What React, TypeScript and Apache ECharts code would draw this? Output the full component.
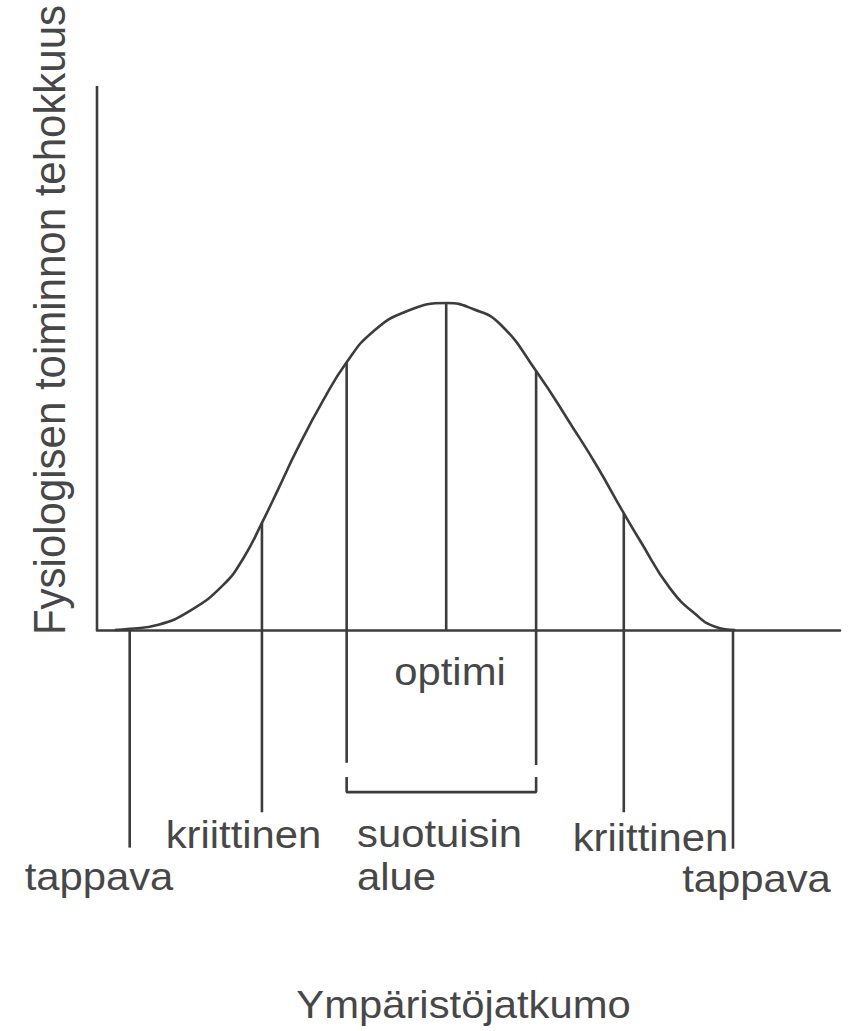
import React, { useEffect, useRef } from "react";
import * as echarts from "echarts";

// Bell curve (x: environmental continuum 0..100, y: efficiency 0..100)
const curveX = [2.4, 4.4, 8.1, 12.5, 17.0, 19.7, 22.2, 24.6, 26.9, 30.4, 33.6, 37.1, 41.7, 47.1, 50.6, 54.2, 59.1, 64.1, 67.3, 70.8, 73.1, 77.1, 80.8, 83.2, 85.9];
const curveY = [0, 0.2, 0.9, 3.5, 8.3, 13.2, 19.7, 26.5, 33.1, 42.1, 49.2, 54.8, 58.6, 60.1, 59.0, 56.3, 47.6, 37.1, 30.1, 21.7, 16.4, 7.7, 2.6, 0.6, 0];

// Vertical marker lines
const markerNames = ["tappava", "kriittinen", "suotuisin alue (alku)", "optimi", "suotuisin alue (loppu)", "kriittinen", "tappava"];
const markerX = [4.4, 22.2, 33.6, 47.0, 59.1, 70.9, 85.6];
const markerTop = [0, 19.7, 49.2, 60.1, 47.6, 21.4, 0];
const markerBottom = [-40.0, -33.5, -24.4, 0, -24.8, -33.5, -40.2];

// Bracket under "suotuisin alue"
const bracketY = -29.8;
const bracketTickTop = -27.0;

const yAxisTop = 100;

const yTitle = "Fysiologisen toiminnon tehokkuus";
const xTitle = "Ympäristöjatkumo";
const labelTexts = ["tappava", "kriittinen", "suotuisin", "alue", "optimi", "kriittinen", "tappava"];

const LINE = "#3c3c3c";
const TEXT = "#474747";
const FONT = '"Liberation Sans", Arial, Helvetica, sans-serif';

export default function App() {
  const ref = useRef<HTMLDivElement>(null);

  useEffect(() => {
    if (!ref.current) return;
    const chart = echarts.init(ref.current, undefined, { renderer: "svg" });

    const lineStyle = { color: LINE, width: 2.6 };
    const seg = (name: string, data: number[][]) => ({
      type: "line",
      name,
      data,
      showSymbol: false,
      symbol: "none",
      silent: true,
      lineStyle: { ...lineStyle, cap: "butt" },
      z: 3,
    });

    const markers = markerX.map((x, i) =>
      seg(markerNames[i], [
        [x, markerTop[i]],
        [x, markerBottom[i]],
      ])
    );

    const bracket = seg("suotuisin alue", [
      [markerX[2], bracketTickTop],
      [markerX[2], bracketY],
      [markerX[4], bracketY],
      [markerX[4], bracketTickTop],
    ]);

    const yLine = seg("y-akseli", [
      [0, 0],
      [0, yAxisTop],
    ]);

    const txt = (
      text: string,
      x: number,
      y: number,
      align: string,
      fontSize = 38,
      extra: any = {}
    ) => ({
      type: "text",
      x,
      y,
      scaleX: 1.1,
      silent: true,
      ...extra,
      style: {
        text,
        fill: TEXT,
        fontSize,
        fontFamily: FONT,
        textAlign: align,
        align,
        textVerticalAlign: "middle",
        verticalAlign: "middle",
      },
    });

    chart.setOption({
      animation: false,
      backgroundColor: "#ffffff",
      grid: { left: 97, right: 18, top: 86, bottom: 20.2, containLabel: false },
      xAxis: {
        type: "value",
        min: 0,
        max: 100,
        axisLine: { show: true, onZero: true, lineStyle: { color: LINE, width: 2.6 } },
        axisTick: { show: false },
        axisLabel: { show: false },
        splitLine: { show: false },
      },
      yAxis: {
        type: "value",
        min: -70,
        max: 100,
        axisLine: { show: false },
        axisTick: { show: false },
        axisLabel: { show: false },
        splitLine: { show: false },
      },
      series: [
        {
          type: "line",
          name: "tehokkuus",
          data: curveX.map((x, i) => [x, curveY[i]]),
          smooth: 0.5,
          showSymbol: false,
          symbol: "none",
          silent: true,
          lineStyle,
          z: 4,
        },
        yLine,
        ...markers,
        bracket,
      ],
      graphic: [
        {
          type: "text",
          x: 49.7,
          y: 320,
          rotation: Math.PI / 2,
          scaleY: 1.05,
          silent: true,
          style: {
            text: yTitle,
            fill: TEXT,
            fontSize: 42,
            fontFamily: FONT,
            textAlign: "center",
            align: "center",
            textVerticalAlign: "middle",
            verticalAlign: "middle",
          },
        },
        txt(labelTexts[0], 99, 877, "center"),
        txt(labelTexts[1], 243.5, 835, "center"),
        txt(labelTexts[2], 357, 834, "left"),
        txt(labelTexts[3], 357, 877, "left"),
        txt(labelTexts[4], 450, 672, "center"),
        txt(labelTexts[5], 650.5, 838, "center"),
        txt(labelTexts[6], 756.5, 879, "center"),
        txt(xTitle, 463.5, 1005, "center"),
      ],
    });

    return () => chart.dispose();
  }, []);

  return (
    <div
      ref={ref}
      style={{ position: "fixed", left: 0, top: 0, width: 858, height: 1031, background: "#fff" }}
    />
  );
}
